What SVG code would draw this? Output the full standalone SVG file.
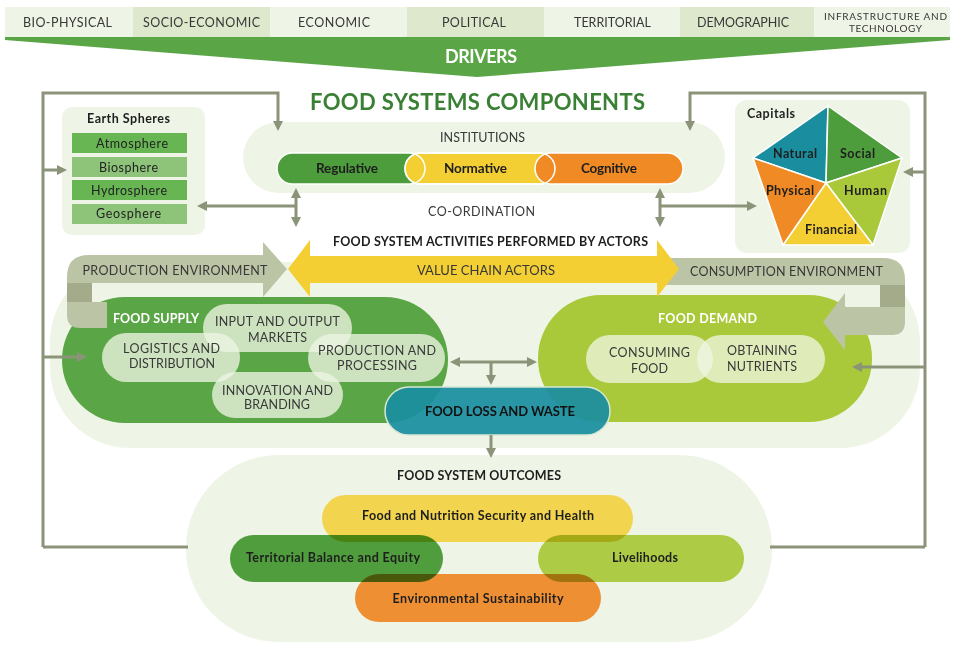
<svg xmlns="http://www.w3.org/2000/svg" width="954" height="645" viewBox="0 0 954 645">
<defs>
<style>
text{font-family:Lato,"Open Sans","Liberation Sans",sans-serif;}
.cap{font-size:12.5px;fill:#383838;text-anchor:middle;}
.lbl{font-size:12.5px;fill:#1e1e1e;font-weight:700;text-anchor:middle;}
.wh{font-size:12.5px;fill:#ffffff;font-weight:700;text-anchor:middle;}
.conn{fill:none;stroke:#8b9378;stroke-width:3;}
.bg{fill:#eef5e6;}
.c1{fill:#eef4e6;}
.c2{fill:#dde8cc;}
.sub{fill:#edf5e3;fill-opacity:0.78;}
.subd{fill:#f2f6e4;fill-opacity:0.75;}
.env{fill:#bcc4a6;}
.envd{fill:#a3ab8b;}
.sep{stroke:#ffffff;stroke-width:1.5;}
.mul{mix-blend-mode:multiply;}
</style>
<marker id="ah" viewBox="0 0 10 10" refX="3" refY="5" markerWidth="10" markerHeight="10" markerUnits="userSpaceOnUse" orient="auto-start-reverse"><path d="M0,0 L10,5 L0,10 z" fill="#8b9378"/></marker>
</defs>
<rect width="954" height="645" fill="#ffffff"/>

<g id="drivers">
<rect class="c1" x="5" y="7" width="128" height="30"/>
<rect class="c2" x="133" y="7" width="137" height="30"/>
<rect class="c1" x="270" y="7" width="137" height="30"/>
<rect class="c2" x="407" y="7" width="137" height="30"/>
<rect class="c1" x="544" y="7" width="136" height="30"/>
<rect class="c2" x="680" y="7" width="134" height="30"/>
<rect class="c1" x="814" y="7" width="136" height="30"/>
<text class="cap" x="67.5" y="27" textLength="89">BIO-PHYSICAL</text>
<text class="cap" x="201.5" y="27" textLength="117">SOCIO-ECONOMIC</text>
<text class="cap" x="334" y="27" textLength="72">ECONOMIC</text>
<text class="cap" x="474" y="27" textLength="64">POLITICAL</text>
<text class="cap" x="612.5" y="27" textLength="77">TERRITORIAL</text>
<text class="cap" x="743" y="27" textLength="92">DEMOGRAPHIC</text>
<text class="cap" x="885.5" y="19.5" style="font-size:10px" textLength="123">INFRASTRUCTURE AND</text>
<text class="cap" x="885.5" y="31.5" style="font-size:10px" textLength="73">TECHNOLOGY</text>
<polygon points="5,37 950,37 950,40 477,77 5,40" fill="#5aa646"/>
<text x="481" y="63" text-anchor="middle" font-size="18" font-weight="700" fill="#ffffff" textLength="72">DRIVERS</text>
</g>

<text x="477.5" y="110" text-anchor="middle" font-size="22" font-weight="700" fill="#3a8034" textLength="335">FOOD SYSTEMS COMPONENTS</text>

<g id="earth-spheres">
<rect class="bg" x="62" y="107" width="143" height="128" rx="10"/>
<text class="lbl" x="128.5" y="123" textLength="83">Earth Spheres</text>
<rect x="72" y="133" width="115" height="20" fill="#68b554"/>
<rect x="72" y="157" width="115" height="20" fill="#8dc47a"/>
<rect x="72" y="180" width="115" height="20" fill="#68b554"/>
<rect x="72" y="204" width="115" height="20" fill="#8dc47a"/>
<text x="132" y="147.5" text-anchor="middle" font-size="12.5" fill="#222" textLength="72">Atmosphere</text>
<text x="128.5" y="171.5" text-anchor="middle" font-size="12.5" fill="#222" textLength="59">Biosphere</text>
<text x="129" y="194.5" text-anchor="middle" font-size="12.5" fill="#222" textLength="76">Hydrosphere</text>
<text x="128.5" y="218" text-anchor="middle" font-size="12.5" fill="#222" textLength="65">Geosphere</text>
</g>

<g id="capitals">
<rect class="bg" x="735" y="100" width="175" height="153" rx="12"/>
<text x="747" y="118" font-size="12.5" font-weight="700" fill="#1e1e1e" textLength="48">Capitals</text>
<polygon class="sep" points="828,106 753,158 826,183" fill="#1a8e9f"/>
<polygon class="sep" points="828,106 902,158 826,183" fill="#4e9d3c"/>
<polygon class="sep" points="902,158 873,245 826,183" fill="#a9c93b"/>
<polygon class="sep" points="873,245 783,245 826,183" fill="#f4cf34"/>
<polygon class="sep" points="783,245 753,158 826,183" fill="#f08a24"/>
<text class="lbl" x="795" y="158" textLength="44">Natural</text>
<text class="lbl" x="857.5" y="158" textLength="35">Social</text>
<text class="lbl" x="790" y="195" textLength="48">Physical</text>
<text class="lbl" x="865.5" y="195" textLength="43">Human</text>
<text class="lbl" x="831" y="234" textLength="52">Financial</text>
</g>

<g id="institutions">
<rect class="bg" x="243" y="122" width="482" height="71" rx="35.5"/>
<text class="cap" x="482.5" y="142" textLength="85">INSTITUTIONS</text>
<rect x="277" y="153" width="148" height="31" rx="15.5" fill="#4e9d3c"/>
<rect class="sep" x="405" y="153" width="150" height="31" rx="15.5" fill="#f4cf34"/>
<rect class="sep" x="535" y="153" width="148" height="31" rx="15.5" fill="#f08a24"/>
<rect class="sep" x="277" y="153" width="148" height="31" rx="15.5" fill="none"/>
<rect class="sep" x="405" y="153" width="150" height="31" rx="15.5" fill="none"/>
<text class="lbl" x="347" y="173" style="font-size:13.5px" textLength="62">Regulative</text>
<text class="lbl" x="475.5" y="173" style="font-size:13.5px" textLength="63">Normative</text>
<text class="lbl" x="609" y="173" style="font-size:13.5px" textLength="56">Cognitive</text>
</g>

<text class="cap" x="481.5" y="216" textLength="107">CO-ORDINATION</text>

<rect class="bg" x="50" y="262" width="870" height="186" rx="80"/>

<g id="food-supply">
<rect x="62" y="297" width="386" height="126" rx="63" fill="#5aa545"/>
</g>
<g id="food-demand">
<rect x="538" y="295" width="334" height="127" rx="63" fill="#a9c93b"/>
</g>

<g id="value-chain">
<text class="lbl" x="490.5" y="246" style="font-size:12.5px" textLength="315">FOOD SYSTEM ACTIVITIES PERFORMED BY ACTORS</text>
<path class="env" d="M263 255 L263 242 L287 269 L263 297 L263 283 L92 283 L92 302 L107 302 L107 328 L80 328 Q67 328 67 315 L67 277 Q67 255 89 255 Z"/>
<rect class="envd" x="67" y="283" width="25" height="19"/>
<text class="cap" x="175" y="275" textLength="185">PRODUCTION  ENVIRONMENT</text>
<path class="env" d="M660 258 L883 258 Q905 258 905 280 L905 322 Q905 335 892 335 L845 335 L845 350 L823 322 L845 293 L845 307 L880 307 L880 285 L660 285 Z"/>
<rect class="envd" x="880" y="285" width="25" height="22"/>
<text class="cap" x="786.5" y="276" textLength="193">CONSUMPTION ENVIRONMENT</text>
<path d="M288 269 L310 240 L310 256 L657 256 L657 240 L679 269 L657 297 L657 283 L310 283 L310 297 Z" fill="#f4cf34"/>
<text class="cap" x="486" y="275" style="font-size:13px" textLength="138">VALUE CHAIN ACTORS</text>
</g>

<g id="supply-activities">
<text class="wh" x="156" y="323" textLength="86">FOOD SUPPLY</text>
<rect class="sub" x="203" y="304" width="149" height="48" rx="24"/>
<rect class="sub" x="102" y="333" width="138" height="49" rx="24.5"/>
<rect class="sub" x="308" y="334" width="137" height="48" rx="24"/>
<rect class="sub" x="212" y="372" width="131" height="46" rx="23"/>
<text class="cap" x="277.5" y="326" textLength="125">INPUT AND OUTPUT</text>
<text class="cap" x="277.5" y="342" textLength="59">MARKETS</text>
<text class="cap" x="171.5" y="353" textLength="97">LOGISTICS AND</text>
<text class="cap" x="172" y="368" textLength="86">DISTRIBUTION</text>
<text class="cap" x="377" y="355" textLength="118">PRODUCTION AND</text>
<text class="cap" x="377" y="370" textLength="80">PROCESSING</text>
<text class="cap" x="277.5" y="395" textLength="111">INNOVATION AND</text>
<text class="cap" x="277" y="409" textLength="66">BRANDING</text>
</g>

<g id="demand-activities">
<text class="wh" x="707.5" y="323" textLength="99">FOOD DEMAND</text>
<rect class="subd" x="586" y="335" width="127" height="48" rx="24"/>
<rect class="subd" x="697" y="335" width="128" height="48" rx="24"/>
<text class="cap" x="649.5" y="357" textLength="81">CONSUMING</text>
<text class="cap" x="649.5" y="373" textLength="37">FOOD</text>
<text class="cap" x="762" y="355" textLength="70">OBTAINING</text>
<text class="cap" x="762" y="371" textLength="70">NUTRIENTS</text>
</g>

<g id="food-loss">
<rect x="385" y="387" width="225" height="48" rx="24" fill="#1a8e9f" fill-opacity="0.93" stroke="#d6e8d2" stroke-width="1.5"/>
<text class="lbl" x="500" y="416" style="font-size:13px;fill:#111" textLength="150">FOOD LOSS AND WASTE</text>
</g>

<g id="outcomes">
<rect class="bg" x="186" y="455" width="586" height="187" rx="93"/>
<text class="lbl" x="479" y="480" textLength="164">FOOD SYSTEM OUTCOMES</text>
<g style="isolation:isolate">
<rect class="mul" x="322" y="495" width="311" height="47" rx="23.5" fill="#f2d44e"/>
<rect class="mul" x="230" y="535" width="213" height="47" rx="23.5" fill="#4f9d3c"/>
<rect class="mul" x="538" y="535" width="206" height="47" rx="23.5" fill="#adcb45"/>
<rect class="mul" x="355" y="574" width="246" height="48" rx="24" fill="#ef8f33"/>
</g>
<text class="lbl" x="478" y="520" textLength="232">Food and Nutrition Security and Health</text>
<text class="lbl" x="333" y="562" textLength="174">Territorial Balance and Equity</text>
<text class="lbl" x="645" y="562" textLength="66">Livelihoods</text>
<text class="lbl" x="478" y="603" textLength="171">Environmental Sustainability</text>
</g>

<g id="connectors">
<path class="conn" d="M43 547 L43 93 L278 93 L278 124" marker-end="url(#ah)"/>
<path class="conn" d="M43 547 L188 547"/>
<path class="conn" d="M43 170 L60 170" marker-end="url(#ah)"/>
<path class="conn" d="M43 357 L80 357" marker-end="url(#ah)"/>
<path class="conn" d="M925 547 L925 93 L690 93 L690 124" marker-end="url(#ah)"/>
<path class="conn" d="M925 547 L770 547"/>
<path class="conn" d="M925 172 L910 172" marker-end="url(#ah)"/>
<path class="conn" d="M925 367 L859 367" marker-end="url(#ah)"/>
<path class="conn" d="M296 195 L296 220" marker-start="url(#ah)" marker-end="url(#ah)"/>
<path class="conn" d="M296 206 L204 206" marker-end="url(#ah)"/>
<path class="conn" d="M660 195 L660 220" marker-start="url(#ah)" marker-end="url(#ah)"/>
<path class="conn" d="M660 206 L750 206" marker-end="url(#ah)"/>
<path class="conn" d="M457 362 L530 362" marker-start="url(#ah)" marker-end="url(#ah)"/>
<path class="conn" d="M491 362 L491 378" marker-end="url(#ah)"/>
<path class="conn" d="M491 435 L491 451" marker-end="url(#ah)"/>
</g>
</svg>
